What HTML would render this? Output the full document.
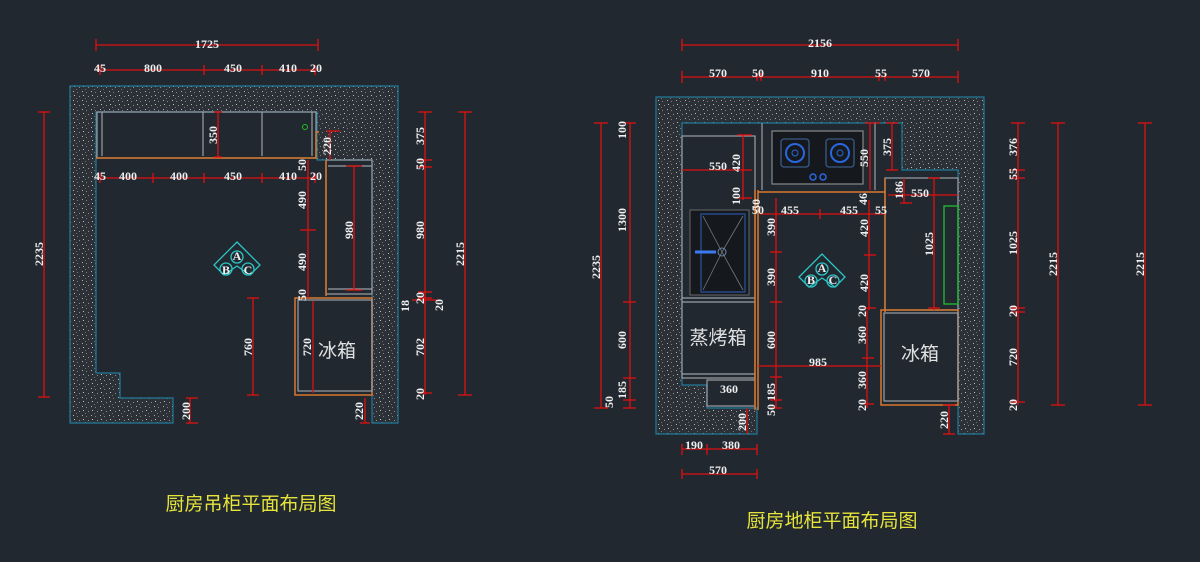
<!DOCTYPE html>
<html><head><meta charset="utf-8"><style>
html,body{margin:0;padding:0;background:#212830;}
svg{display:block}
.t{font-family:"Liberation Serif","Noto Serif CJK SC",serif;font-size:12px;fill:#f0f0f0;font-weight:bold}
.d{stroke:#e01010;stroke-width:1.3;fill:none}
.cj{font-family:"Liberation Sans","Noto Sans CJK SC",sans-serif;fill:#e0e0e0}
.ti{font-family:"Liberation Sans","Noto Sans CJK SC",sans-serif;fill:#e6e43a;font-size:19px}
.g{stroke:#9aa0a6;stroke-width:1.2;fill:none}
.o{stroke:#d9772f;stroke-width:1.5;fill:none}
</style></head><body>
<svg width="1200" height="562" viewBox="0 0 1200 562" xmlns="http://www.w3.org/2000/svg">
<defs>
<pattern id="sp" width="9" height="9" patternUnits="userSpaceOnUse">
<rect width="9" height="9" fill="#2c3137"/>
<rect x="1" y="1" width="1" height="1" fill="#b0b0b0"/>
<rect x="5" y="2" width="1" height="1" fill="#808080"/>
<rect x="2" y="5" width="1" height="1" fill="#c0c0c0"/>
<rect x="7" y="6" width="1" height="1" fill="#909090"/>
<rect x="4" y="8" width="1" height="1" fill="#707070"/>
</pattern>
</defs>
<rect width="1200" height="562" fill="#212830"/>

<!-- LEFT PLAN -->
<polygon points="70,86 398,86 398,423 372,423 372,160 317,160 317,112 96,112 96,373 120,373 120,398 173,398 173,423 70,423" fill="url(#sp)" stroke="#1f7a9a" stroke-width="1.2"/>
<rect x="97" y="112" width="219" height="46" class="g"/>
<line x1="102" y1="112" x2="102" y2="156" class="g"/>
<line x1="203" y1="112" x2="203" y2="156" class="g"/>
<line x1="262" y1="112" x2="262" y2="156" class="g"/>
<line x1="312" y1="112" x2="312" y2="156" class="g"/>
<polyline points="96,158 316,158 316,132 319,132" class="o"/>
<circle cx="305" cy="127" r="2.5" fill="none" stroke="#20c020"/>
<rect x="326" y="160" width="46" height="134" class="g"/>
<line x1="326" y1="160" x2="326" y2="296" class="o"/>
<line x1="328" y1="166" x2="372" y2="166" class="g"/>
<line x1="328" y1="289" x2="372" y2="289" class="g"/>
<rect x="295" y="298" width="77" height="97" class="o"/>
<rect x="298" y="300" width="74" height="91" class="g"/>
<text x="337" y="357" class="cj" font-size="19" text-anchor="middle">冰箱</text>
<g transform="translate(237,263)" stroke="#2cc6c6" fill="none" stroke-width="1.3">
<polygon points="0,-21 23,2 13,12 0,3 -13,12 -23,2"/>
<circle cx="0" cy="-6" r="6"/><circle cx="-11" cy="6" r="6"/><circle cx="11" cy="6" r="6"/>
</g>
<text x="237" y="260" class="t" font-size="9" text-anchor="middle">A</text>
<text x="226" y="274" class="t" font-size="9" text-anchor="middle">B</text>
<text x="248" y="274" class="t" font-size="9" text-anchor="middle">C</text>

<g class="d">
<line x1="96" y1="45" x2="318" y2="45"/><line x1="96" y1="39" x2="96" y2="51"/><line x1="318" y1="39" x2="318" y2="51"/>
<line x1="96" y1="70" x2="318" y2="70"/>
<line x1="100" y1="65" x2="100" y2="75"/><line x1="204" y1="65" x2="204" y2="75"/><line x1="262" y1="65" x2="262" y2="75"/><line x1="315" y1="65" x2="315" y2="75"/>
<line x1="96" y1="178" x2="318" y2="178"/>
<line x1="100" y1="173" x2="100" y2="183"/><line x1="153" y1="173" x2="153" y2="183"/><line x1="204" y1="173" x2="204" y2="183"/><line x1="262" y1="173" x2="262" y2="183"/><line x1="315" y1="173" x2="315" y2="183"/>
<line x1="218" y1="112" x2="218" y2="157"/><line x1="214" y1="112" x2="222" y2="112"/><line x1="214" y1="157" x2="222" y2="157"/>
<line x1="330" y1="131" x2="330" y2="160"/><line x1="326" y1="131" x2="340" y2="131"/>
<line x1="308" y1="160" x2="308" y2="298"/><line x1="300" y1="230" x2="316" y2="230"/>
<line x1="354" y1="166" x2="354" y2="290"/><line x1="346" y1="166" x2="362" y2="166"/><line x1="346" y1="290" x2="362" y2="290"/>
<line x1="253" y1="298" x2="253" y2="395"/><line x1="247" y1="298" x2="259" y2="298"/><line x1="247" y1="395" x2="259" y2="395"/>
<line x1="313" y1="301" x2="313" y2="393"/>
<line x1="365" y1="398" x2="365" y2="423"/><line x1="360" y1="423" x2="370" y2="423"/>
<line x1="190" y1="398" x2="190" y2="423"/><line x1="186" y1="398" x2="198" y2="398"/><line x1="186" y1="423" x2="198" y2="423"/>
<line x1="425" y1="112" x2="425" y2="395"/>
<line x1="418" y1="112" x2="432" y2="112"/><line x1="418" y1="160" x2="432" y2="160"/><line x1="418" y1="167" x2="432" y2="167"/><line x1="418" y1="292" x2="432" y2="292"/><line x1="418" y1="298" x2="432" y2="298"/><line x1="418" y1="393" x2="432" y2="393"/>
<line x1="412" y1="300" x2="437" y2="300"/>
<line x1="465" y1="112" x2="465" y2="395"/><line x1="458" y1="112" x2="472" y2="112"/><line x1="458" y1="395" x2="472" y2="395"/>
<line x1="44" y1="112" x2="44" y2="397"/><line x1="38" y1="112" x2="50" y2="112"/><line x1="38" y1="397" x2="50" y2="397"/>
</g>
<g class="t" text-anchor="middle">
<text x="207" y="48">1725</text>
<text x="100" y="72">45</text><text x="153" y="72">800</text><text x="233" y="72">450</text><text x="288" y="72">410</text><text x="316" y="72">20</text>
<text x="100" y="180">45</text><text x="128" y="180">400</text><text x="179" y="180">400</text><text x="233" y="180">450</text><text x="288" y="180">410</text><text x="316" y="180">20</text>
</g>
<g class="t" text-anchor="middle">
<text transform="translate(217,135) rotate(-90)">350</text>
<text transform="translate(331,146) rotate(-90)">220</text>
<text transform="translate(306,165) rotate(-90)">50</text>
<text transform="translate(306,200) rotate(-90)">490</text>
<text transform="translate(306,262) rotate(-90)">490</text>
<text transform="translate(306,295) rotate(-90)">50</text>
<text transform="translate(353,230) rotate(-90)">980</text>
<text transform="translate(252,347) rotate(-90)">760</text>
<text transform="translate(311,347) rotate(-90)">720</text>
<text transform="translate(190,411) rotate(-90)">200</text>
<text transform="translate(363,411) rotate(-90)">220</text>
<text transform="translate(424,136) rotate(-90)">375</text>
<text transform="translate(424,164) rotate(-90)">50</text>
<text transform="translate(424,230) rotate(-90)">980</text>
<text transform="translate(424,298) rotate(-90)">20</text>
<text transform="translate(424,347) rotate(-90)">702</text>
<text transform="translate(424,394) rotate(-90)">20</text>
<text transform="translate(409,306) rotate(-90)">18</text>
<text transform="translate(443,305) rotate(-90)">20</text>
<text transform="translate(464,254) rotate(-90)">2215</text>
<text transform="translate(43,254) rotate(-90)">2235</text>
</g>
<text x="251" y="510" class="ti" text-anchor="middle">厨房吊柜平面布局图</text>

<!-- RIGHT PLAN -->
<polygon points="656,97 984,97 984,434 958,434 958,170 902,170 902,123 682,123 682,385 707,385 707,408 757,408 757,434 656,434" fill="url(#sp)" stroke="#1f7a9a" stroke-width="1.2"/>
<rect x="682" y="136" width="73" height="242" fill="#212830" class="g"/>
<line x1="682" y1="298" x2="755" y2="298" class="g"/>
<line x1="682" y1="302" x2="755" y2="302" class="g"/>
<line x1="682" y1="374" x2="755" y2="374" class="g"/>
<rect x="707" y="380" width="48" height="26" class="g"/>
<line x1="755" y1="190" x2="755" y2="410" class="o"/>
<line x1="758" y1="190" x2="758" y2="410" class="o"/>
<line x1="762" y1="123" x2="762" y2="190" class="g"/>
<line x1="875" y1="123" x2="875" y2="190" class="g"/>
<line x1="758" y1="192" x2="885" y2="192" class="o"/>
<rect x="772" y="131" width="91" height="53" fill="#15191d" stroke="#888" stroke-width="1.2"/>
<rect x="781" y="139" width="28" height="28" rx="3" fill="none" stroke="#3a5a86" stroke-width="1.3"/>
<rect x="826" y="139" width="28" height="28" rx="3" fill="none" stroke="#3a5a86" stroke-width="1.3"/>
<circle cx="795" cy="153" r="9" fill="none" stroke="#2a66dd" stroke-width="2"/><circle cx="795" cy="153" r="3" fill="none" stroke="#2a66dd"/>
<circle cx="840" cy="153" r="9" fill="none" stroke="#2a66dd" stroke-width="2"/><circle cx="840" cy="153" r="3" fill="none" stroke="#2a66dd"/>
<circle cx="813" cy="177" r="3" fill="none" stroke="#2a66dd" stroke-width="1.5"/><circle cx="823" cy="177" r="3" fill="none" stroke="#2a66dd" stroke-width="1.5"/>
<rect x="690" y="210" width="59" height="85" fill="#15191d" stroke="#666"/>
<rect x="701" y="214" width="44" height="78" fill="none" stroke="#2a4f9a" stroke-width="1.3"/>
<path d="M703,216 L722,252 L743,216 M703,290 L722,252 L743,290" stroke="#777" fill="none" stroke-width="0.8"/>
<circle cx="722" cy="252" r="4" fill="none" stroke="#6688aa"/>
<line x1="695" y1="252" x2="716" y2="252" stroke="#3a7aee" stroke-width="3"/>
<text x="718" y="344" class="cj" font-size="19" text-anchor="middle">蒸烤箱</text>
<rect x="885" y="178" width="73" height="132" fill="#212830" class="g"/>
<line x1="885" y1="178" x2="885" y2="312" class="o"/>
<rect x="944" y="206" width="14" height="98" fill="none" stroke="#20c030" stroke-width="1.3"/>
<rect x="881" y="310" width="77" height="95" class="o"/>
<rect x="884" y="313" width="74" height="88" class="g"/>
<text x="920" y="360" class="cj" font-size="19" text-anchor="middle">冰箱</text>
<g transform="translate(822,275)" stroke="#2cc6c6" fill="none" stroke-width="1.3">
<polygon points="0,-21 23,2 13,12 0,3 -13,12 -23,2"/>
<circle cx="0" cy="-6" r="6"/><circle cx="-11" cy="6" r="6"/><circle cx="11" cy="6" r="6"/>
</g>
<text x="822" y="272" class="t" font-size="9" text-anchor="middle">A</text>
<text x="811" y="284" class="t" font-size="9" text-anchor="middle">B</text>
<text x="833" y="284" class="t" font-size="9" text-anchor="middle">C</text>

<g class="d">
<line x1="682" y1="45" x2="958" y2="45"/><line x1="682" y1="39" x2="682" y2="51"/><line x1="958" y1="39" x2="958" y2="51"/>
<line x1="682" y1="77" x2="958" y2="77"/>
<line x1="682" y1="71" x2="682" y2="83"/><line x1="958" y1="71" x2="958" y2="83"/><line x1="757" y1="73" x2="757" y2="81"/><line x1="761" y1="73" x2="761" y2="81"/><line x1="879" y1="73" x2="879" y2="81"/><line x1="885" y1="73" x2="885" y2="81"/>
<line x1="682" y1="170" x2="752" y2="170"/>
<line x1="743" y1="135" x2="743" y2="200"/><line x1="737" y1="135" x2="752" y2="135"/><line x1="737" y1="198" x2="752" y2="198"/>
<line x1="760" y1="214" x2="885" y2="214"/><line x1="820" y1="209" x2="820" y2="219"/>
<line x1="776" y1="198" x2="776" y2="408"/>
<line x1="770" y1="252" x2="782" y2="252"/><line x1="770" y1="302" x2="782" y2="302"/><line x1="770" y1="377" x2="782" y2="377"/><line x1="770" y1="400" x2="782" y2="400"/><line x1="770" y1="408" x2="782" y2="408"/>
<line x1="870" y1="123" x2="870" y2="190"/><line x1="865" y1="123" x2="880" y2="123"/>
<line x1="892" y1="123" x2="892" y2="170"/><line x1="886" y1="123" x2="898" y2="123"/><line x1="886" y1="170" x2="898" y2="170"/>
<line x1="869" y1="200" x2="869" y2="310"/><line x1="864" y1="255" x2="876" y2="255"/><line x1="864" y1="308" x2="876" y2="308"/>
<line x1="867" y1="310" x2="867" y2="408"/><line x1="862" y1="358" x2="874" y2="358"/><line x1="862" y1="404" x2="874" y2="404"/>
<line x1="758" y1="366" x2="881" y2="366"/>
<line x1="888" y1="195" x2="958" y2="195"/>
<line x1="904" y1="178" x2="904" y2="203"/><line x1="900" y1="203" x2="912" y2="203"/>
<line x1="934" y1="178" x2="934" y2="310"/><line x1="928" y1="178" x2="940" y2="178"/><line x1="928" y1="308" x2="940" y2="308"/>
<line x1="949" y1="405" x2="949" y2="434"/><line x1="943" y1="434" x2="955" y2="434"/><line x1="943" y1="405" x2="955" y2="405"/>
<line x1="747" y1="408" x2="747" y2="434"/>
<line x1="682" y1="449" x2="757" y2="449"/><line x1="682" y1="444" x2="682" y2="455"/><line x1="707" y1="444" x2="707" y2="455"/><line x1="757" y1="444" x2="757" y2="455"/>
<line x1="682" y1="474" x2="757" y2="474"/><line x1="682" y1="469" x2="682" y2="479"/><line x1="757" y1="469" x2="757" y2="479"/>
<line x1="601" y1="123" x2="601" y2="408"/><line x1="594" y1="123" x2="608" y2="123"/><line x1="594" y1="408" x2="608" y2="408"/>
<line x1="630" y1="123" x2="630" y2="408"/>
<line x1="623" y1="123" x2="636" y2="123"/><line x1="623" y1="302" x2="636" y2="302"/><line x1="623" y1="378" x2="636" y2="378"/><line x1="623" y1="400" x2="636" y2="400"/><line x1="623" y1="408" x2="636" y2="408"/>
<line x1="1018" y1="123" x2="1018" y2="405"/>
<line x1="1011" y1="123" x2="1025" y2="123"/><line x1="1011" y1="170" x2="1025" y2="170"/><line x1="1011" y1="178" x2="1025" y2="178"/><line x1="1011" y1="308" x2="1025" y2="308"/><line x1="1011" y1="312" x2="1025" y2="312"/><line x1="1011" y1="402" x2="1025" y2="402"/>
<line x1="1058" y1="123" x2="1058" y2="405"/><line x1="1051" y1="123" x2="1065" y2="123"/><line x1="1051" y1="405" x2="1065" y2="405"/>
<line x1="1145" y1="123" x2="1145" y2="405"/><line x1="1138" y1="123" x2="1152" y2="123"/><line x1="1138" y1="405" x2="1152" y2="405"/>
</g>
<g class="t" text-anchor="middle">
<text x="820" y="47">2156</text>
<text x="718" y="77">570</text><text x="758" y="77">50</text><text x="820" y="77">910</text><text x="881" y="77">55</text><text x="921" y="77">570</text>
<text x="718" y="170">550</text>
<text x="920" y="197">550</text>
<text x="758" y="214">50</text><text x="790" y="214">455</text><text x="849" y="214">455</text><text x="881" y="214">55</text>
<text x="818" y="366">985</text>
<text x="729" y="393">360</text>
<text x="694" y="449">190</text><text x="731" y="449">380</text><text x="718" y="474">570</text>
</g>
<g class="t" text-anchor="middle">
<text transform="translate(740,163) rotate(-90)">420</text>
<text transform="translate(740,196) rotate(-90)">100</text>
<text transform="translate(626,130) rotate(-90)">100</text>
<text transform="translate(626,220) rotate(-90)">1300</text>
<text transform="translate(626,340) rotate(-90)">600</text>
<text transform="translate(626,390) rotate(-90)">185</text>
<text transform="translate(613,402) rotate(-90)">50</text>
<text transform="translate(600,267) rotate(-90)">2235</text>
<text transform="translate(775,227) rotate(-90)">390</text>
<text transform="translate(775,277) rotate(-90)">390</text>
<text transform="translate(775,340) rotate(-90)">600</text>
<text transform="translate(775,392) rotate(-90)">185</text>
<text transform="translate(775,410) rotate(-90)">50</text>
<text transform="translate(760,205) rotate(-90)">50</text>
<text transform="translate(868,158) rotate(-90)">550</text>
<text transform="translate(891,147) rotate(-90)">375</text>
<text transform="translate(867,199) rotate(-90)">46</text>
<text transform="translate(868,228) rotate(-90)">420</text>
<text transform="translate(868,283) rotate(-90)">420</text>
<text transform="translate(866,311) rotate(-90)">20</text>
<text transform="translate(866,335) rotate(-90)">360</text>
<text transform="translate(866,380) rotate(-90)">360</text>
<text transform="translate(866,405) rotate(-90)">20</text>
<text transform="translate(903,190) rotate(-90)">186</text>
<text transform="translate(933,244) rotate(-90)">1025</text>
<text transform="translate(948,420) rotate(-90)">220</text>
<text transform="translate(746,422) rotate(-90)">200</text>
<text transform="translate(1017,147) rotate(-90)">376</text>
<text transform="translate(1017,174) rotate(-90)">55</text>
<text transform="translate(1017,243) rotate(-90)">1025</text>
<text transform="translate(1017,311) rotate(-90)">20</text>
<text transform="translate(1017,357) rotate(-90)">720</text>
<text transform="translate(1017,405) rotate(-90)">20</text>
<text transform="translate(1057,264) rotate(-90)">2215</text>
<text transform="translate(1144,264) rotate(-90)">2215</text>
</g>
<text x="832" y="527" class="ti" text-anchor="middle">厨房地柜平面布局图</text>
</svg>
</body></html>
